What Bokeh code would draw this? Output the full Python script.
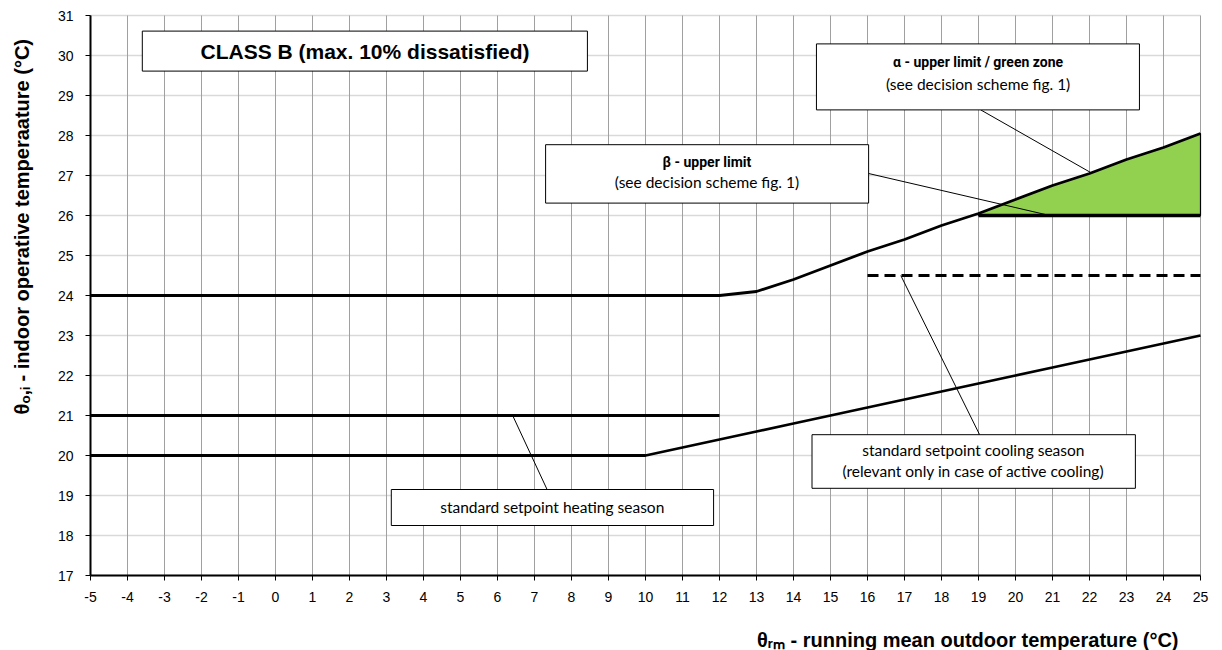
import math
from bokeh.plotting import figure
from bokeh.models import Range1d, FixedTicker
from bokeh.core.properties import value
from bokeh.embed import file_html
from bokeh.resources import INLINE

# ---------------- data ----------------
x_ticks = list(range(-5, 26))
x_tick_labels = [str(v) for v in x_ticks]
y_ticks = list(range(17, 32))
y_tick_labels = [str(v) for v in y_ticks]

# alpha upper limit (θrm = -5 ... 25)
alpha_x = list(range(-5, 26))
alpha_y = [24.0] * 18 + [24.1, 24.4, 24.75, 25.1, 25.4, 25.75, 26.05,
                         26.4, 26.75, 27.05, 27.4, 27.7, 28.05]

# lower limit (θrm = -5 ... 25)
lower_x = list(range(-5, 26))
lower_y = [20.0] * 16 + [20.2, 20.4, 20.6, 20.8, 21.0, 21.2, 21.4, 21.6,
                         21.8, 22.0, 22.2, 22.4, 22.6, 22.8, 23.0]

# standard setpoint heating season
heat_x = [-5, 12]
heat_y = [21.0, 21.0]

# standard setpoint cooling season
cool_x = [16, 25]
cool_y = [24.5, 24.5]

# beta upper limit
beta_x = [19, 25]
beta_y = [26.0, 26.0]

# green zone (between beta limit and alpha limit)
green_x = alpha_x[24:]
green_top = alpha_y[24:]
green_bottom = [26.0] * len(green_x)

title_text = "CLASS B (max. 10% dissatisfied)"
alpha_l1 = "α - upper limit / green zone"
alpha_l2 = "(see decision scheme fig. 1)"
beta_l1 = "β - upper limit"
beta_l2 = "(see decision scheme fig. 1)"
heat_text = "standard setpoint heating season"
cool_l1 = "standard setpoint cooling season"
cool_l2 = "(relevant only in case of active cooling)"
x_title = "θᵣₘ - running mean outdoor temperature (°C)"
y_title = "θₒ,ᵢ - indoor operative temperaature (°C)"

X_MIN, X_MAX = -5, 25
Y_MIN, Y_MAX = 17, 31

# ---------------- figure ----------------
# plot area: 37 px per °C horizontally, 40 px per °C vertically;
# the frame covers the whole canvas, axes are pinned at -5 / 17
PX_X, PX_Y = 37.0, 40.0
p = figure(width=1222, height=650, output_backend="svg", toolbar_location=None,
           x_range=Range1d(X_MIN - 90 / PX_X, X_MAX + 22 / PX_X),
           y_range=Range1d(Y_MAX - 635 / PX_Y, Y_MAX + 15 / PX_Y),
           min_border_left=0, min_border_right=0, min_border_top=0,
           min_border_bottom=0)
p.outline_line_color = None
p.background_fill_color = "white"
p.border_fill_color = "white"
p.xgrid.visible = False
p.ygrid.visible = False

# grid lines (one per tick)
p.segment(x0=[X_MIN] * len(y_ticks), y0=y_ticks, x1=[X_MAX] * len(y_ticks), y1=y_ticks,
          line_color="#d9d9d9", line_width=1.5)
p.segment(x0=x_ticks, y0=[Y_MIN] * len(x_ticks), x1=x_ticks, y1=[Y_MAX] * len(x_ticks),
          line_color="#a0a0a0", line_width=1)

for ax, ticks, labels in ((p.xaxis, x_ticks, x_tick_labels), (p.yaxis, y_ticks, y_tick_labels)):
    ax.ticker = FixedTicker(ticks=ticks)
    ax.major_label_overrides = {t: l for t, l in zip(ticks, labels)}
    ax.axis_line_color = "black"
    ax.axis_line_width = 2
    ax.major_tick_line_color = "black"
    ax.major_tick_line_width = 1
    ax.major_tick_out = 5
    ax.major_tick_in = 0
    ax.minor_tick_line_color = None
    ax.major_label_text_font = "Liberation Sans"
    ax.major_label_text_font_size = "14px"
    ax.major_label_text_color = "black"
p.xaxis.fixed_location = Y_MIN
p.yaxis.fixed_location = X_MIN
p.xaxis.bounds = (X_MIN, X_MAX)
p.yaxis.bounds = (Y_MIN, Y_MAX)
p.xaxis.major_label_standoff = 11
p.yaxis.major_label_standoff = 12

# axis titles
p.text(x=[X_MAX - 22 / PX_X], y=[15.4], text=[x_title], text_font=value("Liberation Sans"),
       text_font_size=value("20px"), text_font_style="bold", text_align="right",
       text_baseline="middle", text_color="black")
p.text(x=[-6.84], y=[25.72], text=[y_title], angle=math.pi / 2,
       text_font=value("Liberation Sans"), text_font_size=value("20px"),
       text_font_style="bold", text_align="center", text_baseline="middle",
       text_color="black")

# green zone
p.varea(x=green_x, y1=green_bottom, y2=green_top, fill_color="#92D050")
p.patch(x=green_x + [25, 19], y=green_top + [26.0, 26.0], fill_color=None,
        line_color="black", line_width=1.2)

# lines
p.line(alpha_x, alpha_y, line_color="black", line_width=2.8)
p.line(lower_x, lower_y, line_color="black", line_width=2.8)
p.line(heat_x, heat_y, line_color="black", line_width=2.8)
p.line(cool_x, cool_y, line_color="black", line_width=2.8, line_dash="11 6")
p.line(beta_x, beta_y, line_color="black", line_width=3.5)

# leader lines
p.segment(x0=[19.06, 16.03, 7.34, 19.03], y0=[28.64, 27.05, 19.15, 20.52],
          x1=[22.04, 20.83, 6.41, 16.9], y1=[27.07, 26.02, 21.0, 24.5],
          line_color="black", line_width=1)

# boxes
p.quad(left=[-3.6, 14.62, 7.30, 3.13, 14.50],
       right=[8.43, 23.35, 16.03, 11.84, 23.24],
       top=[30.61, 30.29, 27.77, 19.15, 20.52],
       bottom=[29.61, 28.64, 26.31, 18.25, 19.18],
       fill_color="white", line_color="black", line_width=1)

# texts
p.text(x=[2.42], y=[30.11], text=[title_text], text_font=value("Liberation Sans"),
       text_font_size=value("21px"), text_font_style="bold", text_align="center",
       text_baseline="middle", text_color="black")
p.text(x=[18.99, 11.66], y=[29.83, 27.33], text=[alpha_l1, beta_l1],
       text_font=value("Roboto"), text_font_size=value("14px"), text_font_style="bold",
       text_align="center", text_baseline="middle", text_color="black")
p.text(x=[18.99, 11.66], y=[29.29, 26.83], text=[alpha_l2, beta_l2],
       text_font=value("Lato"), text_font_size=value("15.5px"),
       text_align="center", text_baseline="middle", text_color="black")
p.text(x=[7.48, 18.86, 18.86], y=[18.71, 20.14, 19.62], text=[heat_text, cool_l1, cool_l2],
       text_font=value("Lato"), text_font_size=value("15.5px"),
       text_align="center", text_baseline="middle", text_color="black")

open("out.html", "w").write(file_html(p, INLINE))
